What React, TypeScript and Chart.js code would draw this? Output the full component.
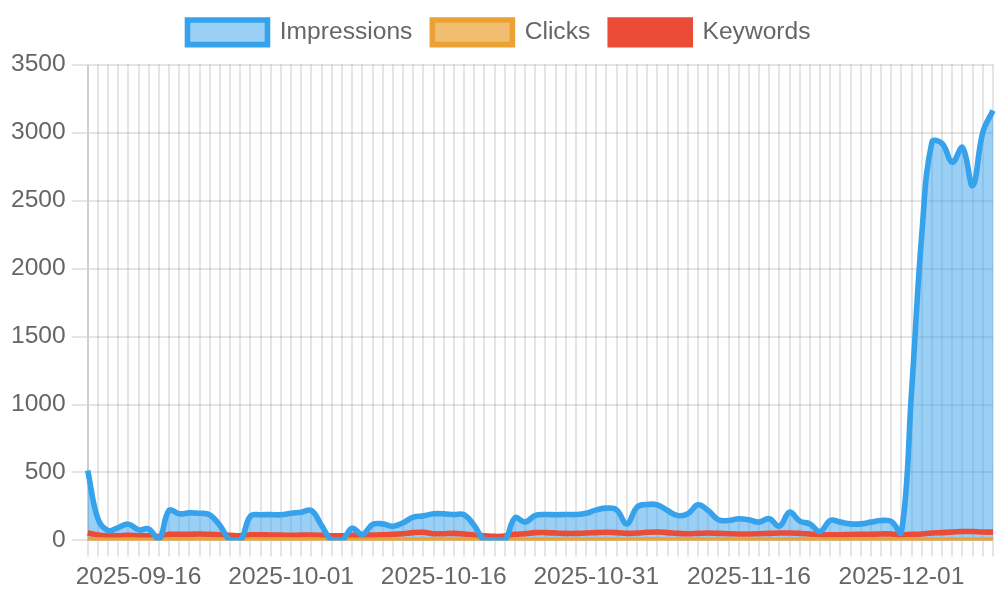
import React, { useEffect, useRef } from 'react';
import { Chart, registerables } from 'chart.js';

Chart.register(...registerables);

// Category labels (one per day; 2025-11-01 is absent in the source data)
const dates = [
  '2025-09-11', '2025-09-12', '2025-09-13', '2025-09-14', '2025-09-15', '2025-09-16', '2025-09-17', '2025-09-18', '2025-09-19', '2025-09-20',
  '2025-09-21', '2025-09-22', '2025-09-23', '2025-09-24', '2025-09-25', '2025-09-26', '2025-09-27', '2025-09-28', '2025-09-29', '2025-09-30',
  '2025-10-01', '2025-10-02', '2025-10-03', '2025-10-04', '2025-10-05', '2025-10-06', '2025-10-07', '2025-10-08', '2025-10-09', '2025-10-10',
  '2025-10-11', '2025-10-12', '2025-10-13', '2025-10-14', '2025-10-15', '2025-10-16', '2025-10-17', '2025-10-18', '2025-10-19', '2025-10-20',
  '2025-10-21', '2025-10-22', '2025-10-23', '2025-10-24', '2025-10-25', '2025-10-26', '2025-10-27', '2025-10-28', '2025-10-29', '2025-10-30',
  '2025-10-31', '2025-11-02', '2025-11-03', '2025-11-04', '2025-11-05', '2025-11-06', '2025-11-07', '2025-11-08', '2025-11-09', '2025-11-10',
  '2025-11-11', '2025-11-12', '2025-11-13', '2025-11-14', '2025-11-15', '2025-11-16', '2025-11-17', '2025-11-18', '2025-11-19', '2025-11-20',
  '2025-11-21', '2025-11-22', '2025-11-23', '2025-11-24', '2025-11-25', '2025-11-26', '2025-11-27', '2025-11-28', '2025-11-29', '2025-11-30',
  '2025-12-01', '2025-12-02', '2025-12-03', '2025-12-04', '2025-12-05', '2025-12-06', '2025-12-07', '2025-12-08', '2025-12-09', '2025-12-10',
];

// Tick labels shown on the x axis
const tickLabels = ['2025-09-16', '2025-10-01', '2025-10-16', '2025-10-31', '2025-11-16', '2025-12-01'];

const impressions = [
  515, 160, 73, 95, 120, 78, 85, 5, 222, 196,
  203, 200, 189, 110, 0, 0, 180, 189, 190, 189,
  200, 208, 220, 110, 0, 0, 90, 44, 118, 122,
  105, 130, 172, 181, 196, 196, 191, 189, 110, 0,
  0, 0, 167, 135, 184, 191, 189, 191, 191, 200,
  225, 238, 225, 122, 245, 265, 262, 220, 184, 196,
  262, 220, 152, 147, 160, 152, 135, 160, 105, 208,
  142, 122, 66, 147, 135, 122, 122, 135, 147, 140,
  60, 1100, 2250, 2930, 2920, 2782, 2890, 2610, 3002, 3162,
];

const clicks = [
  5, 3, 2, 2, 3, 2, 2, 1, 4, 3,
  3, 4, 3, 2, 0, 0, 3, 3, 3, 3,
  3, 4, 4, 2, 0, 0, 2, 1, 2, 2,
  2, 3, 4, 4, 4, 4, 3, 3, 2, 0,
  0, 0, 3, 2, 3, 4, 3, 3, 3, 4,
  4, 4, 4, 3, 4, 5, 5, 4, 3, 3,
  4, 4, 3, 3, 3, 3, 2, 3, 2, 4,
  3, 2, 1, 3, 3, 2, 2, 3, 3, 3,
  1, 2, 3, 4, 4, 4, 4, 3, 4, 4,
];

const keywords = [
  55, 40, 35, 35, 38, 35, 35, 30, 45, 45,
  45, 48, 45, 42, 38, 35, 42, 42, 40, 40,
  38, 40, 40, 38, 35, 35, 38, 40, 40, 42,
  45, 50, 58, 60, 50, 50, 52, 48, 40, 35,
  30, 32, 45, 50, 58, 58, 55, 52, 52, 55,
  58, 60, 58, 52, 55, 60, 62, 58, 52, 50,
  52, 55, 52, 50, 48, 48, 50, 52, 55, 55,
  52, 48, 42, 42, 42, 44, 45, 46, 48, 48,
  42, 45, 48, 55, 58, 62, 66, 66, 62, 62,
];

const yMin = 0;
const yMax = 3500;
const yStep = 500;

const FONT = "'Liberation Sans', Arial, sans-serif";
const FONT_SIZE = 12.3;

export default function App() {
  const canvasRef = useRef<HTMLCanvasElement>(null);

  useEffect(() => {
    if (!canvasRef.current) return;
    const chart = new Chart(canvasRef.current, {
      type: 'line',
      data: {
        labels: dates,
        datasets: [
          {
            label: 'Impressions',
            data: impressions,
            borderColor: 'rgb(54, 162, 235)',
            backgroundColor: 'rgba(54, 162, 235, 0.5)',
            fill: 'origin',
            borderWidth: 2.8,
            pointRadius: 0,
            tension: 0.4,
          },
          {
            label: 'Clicks',
            data: clicks,
            borderColor: 'rgb(235, 162, 52)',
            backgroundColor: 'rgba(235, 162, 52, 0.7)',
            fill: 'origin',
            borderWidth: 2.8,
            pointRadius: 0,
            tension: 0.4,
          },
          {
            label: 'Keywords',
            data: keywords,
            borderColor: 'rgb(235, 76, 55)',
            backgroundColor: 'rgb(235, 76, 55)',
            fill: false,
            borderWidth: 2.8,
            pointRadius: 0,
            tension: 0.4,
          },
        ],
      },
      options: {
        animation: false,
        responsive: true,
        maintainAspectRatio: false,
        devicePixelRatio: 2,
        layout: { padding: { left: 2.5, right: 3.5, top: 0, bottom: 1 } },
        font: { family: FONT },
        plugins: {
          legend: {
            display: true,
            position: 'top',
            labels: { color: '#666', font: { family: FONT, size: FONT_SIZE } },
          },
          tooltip: { enabled: false },
          filler: { drawTime: 'beforeDatasetsDraw' },
        },
        scales: {
          x: {
            ticks: {
              autoSkip: false,
              maxRotation: 0,
              minRotation: 0,
              color: '#666',
              font: { family: FONT, size: FONT_SIZE },
              callback: (_v: any, i: number) => (tickLabels.includes(dates[i]) ? dates[i] : ''),
            },
          },
          y: {
            min: yMin,
            max: yMax,
            ticks: {
              stepSize: yStep,
              color: '#666',
              font: { family: FONT, size: FONT_SIZE },
              callback: (v: any) => String(v),
            },
          },
        },
      } as any,
    });
    return () => chart.destroy();
  }, []);

  return (
    <div
      style={{
        position: 'absolute',
        left: 0,
        top: 0,
        width: 500,
        height: 300,
        transform: 'scale(2)',
        transformOrigin: '0 0',
      }}
    >
      <canvas ref={canvasRef} />
    </div>
  );
}
